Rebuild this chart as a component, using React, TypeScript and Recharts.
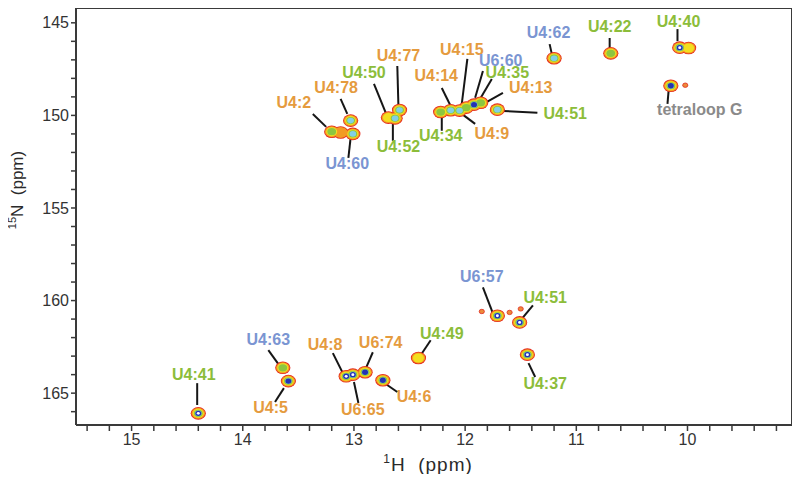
import { ScatterChart, Scatter, XAxis, YAxis, ReferenceLine } from "recharts";

// 1H tick positions (ppm), labelled at whole numbers
const hTicks = [
  9.2, 9.4, 9.6, 9.8, 10, 10.2, 10.4, 10.6, 10.8, 11, 11.2, 11.4, 11.6, 11.8, 12,
  12.2, 12.4, 12.6, 12.8, 13, 13.2, 13.4, 13.6, 13.8, 14, 14.2, 14.4, 14.6, 14.8,
  15, 15.2, 15.4,
];
// 15N tick positions (ppm), labelled every 5
const nTicks = [
  145, 146, 147, 148, 149, 150, 151, 152, 153, 154, 155, 156, 157, 158, 159, 160,
  161, 162, 163, 164, 165, 166,
];

// cross peaks: 1H shift, 15N shift, number of contour levels reached
const peaks = [
  { h: 13.2, n: 150.88, level: 3 },
  { h: 13.12, n: 150.92, level: 1 },
  { h: 13.03, n: 150.28, level: 4 },
  { h: 13.01, n: 151.0, level: 4 },
  { h: 12.69, n: 150.12, level: 2 },
  { h: 12.63, n: 150.16, level: 4 },
  { h: 12.59, n: 149.71, level: 4 },
  { h: 12.22, n: 149.82, level: 3 },
  { h: 12.13, n: 149.72, level: 4 },
  { h: 12.05, n: 149.74, level: 4 },
  { h: 11.99, n: 149.58, level: 3 },
  { h: 11.92, n: 149.42, level: 5 },
  { h: 11.86, n: 149.32, level: 3 },
  { h: 11.71, n: 149.69, level: 4 },
  { h: 11.2, n: 146.91, level: 4 },
  { h: 10.69, n: 146.65, level: 3 },
  { h: 10.07, n: 146.34, level: 6 },
  { h: 9.99, n: 146.36, level: 2 },
  { h: 10.15, n: 148.4, level: 5 },
  { h: 14.4, n: 166.09, level: 6 },
  { h: 13.64, n: 163.63, level: 3 },
  { h: 13.59, n: 164.35, level: 5 },
  { h: 13.07, n: 164.09, level: 6 },
  { h: 13.01, n: 164.0, level: 6 },
  { h: 12.9, n: 163.87, level: 5 },
  { h: 12.74, n: 164.3, level: 5 },
  { h: 12.42, n: 163.1, level: 2 },
  { h: 11.71, n: 160.82, level: 6 },
  { h: 11.51, n: 161.18, level: 6 },
  { h: 11.44, n: 162.92, level: 6 },
];

// small isolated noise spots
const weakSpots = [
  { h: 10.02, n: 148.37 },
  { h: 11.85, n: 160.59 },
  { h: 11.6, n: 160.64 },
  { h: 11.5, n: 160.45 },
];

// assignments: text, colour group, label centre, leader line [h1, n1, h2, n2]
const assignments = [
  { text: "U4:2", group: "o", h: 13.54, n: 149.32, line: [13.37, 149.92, 13.25, 150.62] },
  { text: "U4:78", group: "o", h: 13.16, n: 148.52, line: [13.12, 149.11, 13.06, 149.92] },
  { text: "U4:60", group: "b", h: 13.06, n: 152.61, line: [13.05, 152.29, 13.03, 151.21] },
  { text: "U4:50", group: "g", h: 12.91, n: 147.71, line: [12.82, 148.3, 12.71, 149.92] },
  { text: "U4:77", group: "o", h: 12.6, n: 146.79, line: [12.61, 147.33, 12.6, 149.49] },
  { text: "U4:52", group: "g", h: 12.6, n: 151.69, line: [12.65, 151.37, 12.65, 150.45] },
  { text: "U4:15", group: "o", h: 12.03, n: 146.42, line: [11.98, 146.95, 12.03, 149.38] },
  { text: "U4:14", group: "o", h: 12.26, n: 147.87, line: [12.21, 148.52, 12.13, 149.49] },
  { text: "U6:60", group: "b", h: 11.68, n: 147.06, line: [11.84, 147.6, 11.91, 149.05] },
  { text: "U4:35", group: "g", h: 11.62, n: 147.71, line: [11.76, 148.03, 11.87, 149.16] },
  { text: "U4:13", group: "o", h: 11.41, n: 148.52, line: [11.66, 148.79, 11.82, 149.32] },
  { text: "U4:51", group: "g", h: 11.1, n: 149.92, line: [11.66, 149.76, 11.35, 149.86] },
  { text: "U4:34", group: "g", h: 12.22, n: 151.1, line: [12.21, 150.83, 12.21, 150.02] },
  { text: "U4:9", group: "o", h: 11.76, n: 150.99, line: [12.03, 149.92, 11.91, 150.46] },
  { text: "U4:62", group: "b", h: 11.25, n: 145.55, line: [11.24, 146.15, 11.22, 146.69] },
  { text: "U4:22", group: "g", h: 10.7, n: 145.18, line: [10.7, 145.82, 10.7, 146.42] },
  { text: "U4:40", group: "g", h: 10.08, n: 144.91, line: [10.09, 145.34, 10.09, 145.99] },
  { text: "tetraloop G", group: "k", h: 9.89, n: 149.7, line: [10.17, 148.68, 10.18, 149.38] },
  { text: "U4:41", group: "g", h: 14.44, n: 163.97, line: [14.41, 164.46, 14.41, 165.64] },
  { text: "U4:63", group: "b", h: 13.77, n: 162.09, line: [13.77, 162.68, 13.66, 163.59] },
  { text: "U4:5", group: "o", h: 13.75, n: 165.8, line: [13.71, 165.48, 13.63, 164.73] },
  { text: "U4:8", group: "o", h: 13.26, n: 162.36, line: [13.19, 162.84, 13.1, 163.92] },
  { text: "U6:74", group: "o", h: 12.76, n: 162.25, line: [12.83, 162.79, 12.9, 163.76] },
  { text: "U6:65", group: "o", h: 12.92, n: 165.86, line: [12.96, 165.53, 13.0, 164.4] },
  { text: "U4:6", group: "o", h: 12.46, n: 165.16, line: [12.74, 164.4, 12.61, 164.94] },
  { text: "U4:49", group: "g", h: 12.21, n: 161.76, line: [12.31, 162.14, 12.4, 162.95] },
  { text: "U6:57", group: "b", h: 11.85, n: 158.69, line: [11.84, 159.29, 11.75, 160.69] },
  { text: "U4:51", group: "g", h: 11.28, n: 159.82, line: [11.39, 160.26, 11.5, 161.06] },
  { text: "U4:37", group: "g", h: 11.28, n: 164.46, line: [11.43, 163.38, 11.37, 164.13] },
];

const groupColor: Record<string, string> = {
  o: "#e59b3e",
  g: "#8cbd3a",
  b: "#7a95d2",
  k: "#8a8a8a",
};

// contour levels from outermost to innermost
const contours = [
  { fill: "#e5281d", rx: 7.6, ry: 6.3 },
  { fill: "#f29b22", rx: 6.8, ry: 5.5 },
  { fill: "#f3df1e", rx: 5.5, ry: 4.5 },
  { fill: "#8dc63f", rx: 4.4, ry: 3.6 },
  { fill: "#82cfe6", rx: 3.3, ry: 2.8 },
  { fill: "#2433b3", rx: 3.0, ry: 2.7 },
  { fill: "#ffffff", rx: 1.5, ry: 1.4 },
];

const H_DOMAIN: [number, number] = [9.06, 15.5];
const N_DOMAIN: [number, number] = [144.2, 166.72];
const FONT = "'Liberation Sans', Arial, Helvetica, sans-serif";
const AXIS = "#3a3a3a";

// anchor points for the ticks on the top and right sides of the box
const topTickPoints = hTicks.map((t) => ({ h: t, n: N_DOMAIN[0] }));
const rightTickPoints = nTicks.map((t) => ({ h: H_DOMAIN[0], n: t }));

const supStyle = { fontSize: 12, position: "relative" as const, top: -8, verticalAlign: "baseline" };

export default function App() {
  return (
    <div style={{ position: "relative", width: 800, height: 482, margin: -8, background: "#fff", fontFamily: FONT }}>
      <ScatterChart width={800} height={482} margin={{ top: 8, right: 8, bottom: 0, left: 0 }}>
        <XAxis
          dataKey="h"
          type="number"
          domain={H_DOMAIN}
          reversed
          ticks={hTicks}
          interval={0}
          height={57}
          tickSize={6}
          tickMargin={3}
          tickFormatter={(v: number) => (Number.isInteger(v) ? String(v) : "")}
          tick={{ fill: "#333", fontSize: 16, fontFamily: FONT }}
          axisLine={{ stroke: AXIS, strokeWidth: 2 }}
          tickLine={{ stroke: AXIS, strokeWidth: 1.5 }}
        />
        <YAxis
          dataKey="n"
          type="number"
          domain={N_DOMAIN}
          reversed
          ticks={nTicks}
          interval={0}
          width={76}
          tickSize={5}
          tickMargin={2}
          tickFormatter={(v: number) => (v % 5 === 0 ? String(v) : "")}
          tick={{ fill: "#333", fontSize: 16, fontFamily: FONT }}
          axisLine={{ stroke: AXIS, strokeWidth: 2 }}
          tickLine={{ stroke: AXIS, strokeWidth: 1.5 }}
        />

        {/* top and right sides of the box, drawn as lines at the domain edges */}
        <ReferenceLine y={N_DOMAIN[0]} stroke={AXIS} strokeWidth={2} ifOverflow="visible" />
        <ReferenceLine x={H_DOMAIN[0]} stroke={AXIS} strokeWidth={2} ifOverflow="visible" />

        {/* outward ticks on those sides */}
        <Scatter
          data={topTickPoints}
          isAnimationActive={false}
          shape={(props: any) => (
            <line x1={props.cx} y1={props.cy} x2={props.cx} y2={props.cy - 5} stroke={AXIS} strokeWidth={1.5} />
          )}
        />
        <Scatter
          data={rightTickPoints}
          isAnimationActive={false}
          shape={(props: any) => (
            <line x1={props.cx} y1={props.cy} x2={props.cx + 5} y2={props.cy} stroke={AXIS} strokeWidth={1.5} />
          )}
        />

        {contours.map((c, level) => (
          <Scatter
            key={"lvl" + level}
            data={peaks.filter((p) => p.level >= level)}
            isAnimationActive={false}
            shape={(props: any) => (
              <ellipse cx={props.cx} cy={props.cy} rx={c.rx} ry={c.ry} fill={c.fill} />
            )}
          />
        ))}

        <Scatter
          data={weakSpots}
          isAnimationActive={false}
          shape={(props: any) => (
            <ellipse cx={props.cx} cy={props.cy} rx={2.6} ry={2.2} fill="#ec8a3a" stroke="#e0281d" strokeWidth={0.8} />
          )}
        />

        {assignments.map((a, i) => (
          <ReferenceLine
            key={"ln" + i}
            segment={[
              { x: a.line[0], y: a.line[1] },
              { x: a.line[2], y: a.line[3] },
            ]}
            stroke="#161616"
            strokeWidth={2}
            ifOverflow="visible"
          />
        ))}

        <Scatter
          data={assignments}
          isAnimationActive={false}
          shape={(props: any) => (
            <text
              x={props.cx}
              y={props.cy}
              textAnchor="middle"
              dominantBaseline="central"
              fontFamily={FONT}
              fontSize={16}
              fontWeight="bold"
              fill={groupColor[props.payload.group]}
            >
              {props.payload.text}
            </text>
          )}
        />
      </ScatterChart>

      <div
        style={{
          position: "absolute",
          left: 328,
          top: 454,
          width: 200,
          textAlign: "center",
          fontSize: 19,
          letterSpacing: 1,
          color: "#2a2a2a",
          lineHeight: "22px",
        }}
      >
        <span style={supStyle}>1</span>H&nbsp;&nbsp;(ppm)
      </div>
      <div
        style={{
          position: "absolute",
          left: 18,
          top: 190,
          width: 140,
          height: 20,
          transform: "translate(-50%, -50%) rotate(-90deg)",
          textAlign: "center",
          fontSize: 17,
          color: "#2a2a2a",
          lineHeight: "20px",
          whiteSpace: "nowrap",
        }}
      >
        <span style={{ ...supStyle, fontSize: 11, top: -7 }}>15</span>N&nbsp;&nbsp;(ppm)
      </div>
    </div>
  );
}
